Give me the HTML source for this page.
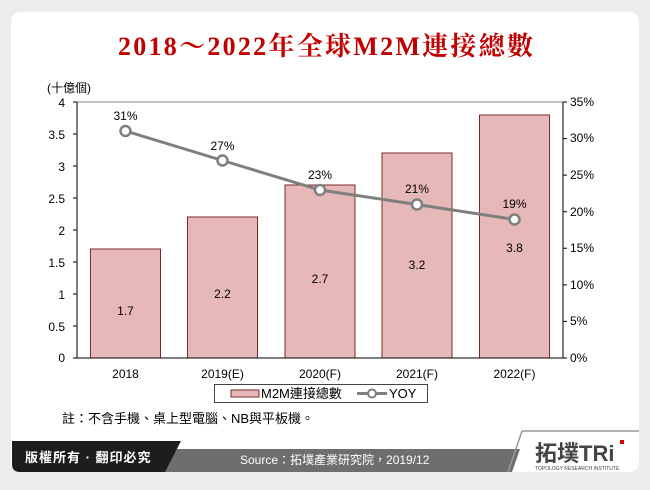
<!DOCTYPE html>
<html><head><meta charset="utf-8"><style>
body{margin:0;width:650px;height:485px;background:#ececec;overflow:hidden;font-family:"Liberation Sans","Noto Sans CJK TC",sans-serif}
</style></head><body>
<svg width="650" height="485" xmlns="http://www.w3.org/2000/svg" font-family="Liberation Sans, Noto Sans CJK TC, sans-serif">
<rect x="11" y="12" width="628" height="460" rx="9" fill="#fff"/>
<text x="118" y="55" textLength="415" lengthAdjust="spacing" font-family="Liberation Serif, Noto Serif CJK SC, serif" font-weight="bold" font-size="26" fill="#c00000">2018～2022年全球M2M連接總數</text>
<text x="47" y="92" font-size="12">(十億個)</text>
<g font-size="12" text-anchor="end">
<text x="65" y="107">4</text><text x="65" y="139">3.5</text><text x="65" y="171">3</text><text x="65" y="203">2.5</text><text x="65" y="235">2</text><text x="65" y="267">1.5</text><text x="65" y="299">1</text><text x="65" y="331">0.5</text><text x="65" y="362">0</text>
</g>
<g font-size="12">
<text x="570" y="106">35%</text><text x="570" y="142">30%</text><text x="570" y="179">25%</text><text x="570" y="216">20%</text><text x="570" y="252">15%</text><text x="570" y="289">10%</text><text x="570" y="325">5%</text><text x="570" y="362">0%</text>
</g>
<g fill="#e6b8b7" stroke="#7b2b2b" stroke-width="1">
<rect x="90.5" y="249" width="70" height="109"/>
<rect x="187.5" y="217" width="70" height="141"/>
<rect x="285" y="185" width="70" height="173"/>
<rect x="382" y="153" width="70" height="205"/>
<rect x="479.5" y="115" width="70" height="243"/>
</g>
<rect x="77" y="102" width="486" height="256" fill="none" stroke="#888" stroke-width="1"/>
<g stroke="#000" stroke-width="1">
<line x1="77" y1="102" x2="77" y2="358"/><line x1="563" y1="102" x2="563" y2="358"/><line x1="77" y1="358" x2="563" y2="358"/>
<path d="M73 102H77M73 134H77M73 166H77M73 198H77M73 230H77M73 262H77M73 294H77M73 326H77M73 358H77"/>
<path d="M563 102H567M563 138.6H567M563 175.1H567M563 211.7H567M563 248.3H567M563 284.9H567M563 321.4H567M563 358H567"/>
</g>
<g font-size="12" text-anchor="middle">
<text x="125.5" y="315">1.7</text><text x="222.5" y="298">2.2</text><text x="320" y="283">2.7</text><text x="417" y="269">3.2</text><text x="514.5" y="252">3.8</text>
<text x="125.5" y="120">31%</text><text x="222.5" y="150">27%</text><text x="320" y="179">23%</text><text x="417" y="193">21%</text><text x="514.5" y="208">19%</text>
<text x="125.5" y="378">2018</text><text x="222.5" y="378">2019(E)</text><text x="320" y="378">2020(F)</text><text x="417" y="378">2021(F)</text><text x="514.5" y="378">2022(F)</text>
</g>
<polyline points="125.5,131 222.5,160.5 320,190 417,204.5 514.5,219.5" fill="none" stroke="#7f7f7f" stroke-width="3"/>
<g fill="#fff" stroke="#7f7f7f" stroke-width="2.5">
<circle cx="125.5" cy="131" r="5"/><circle cx="222.5" cy="160.5" r="5"/><circle cx="320" cy="190" r="5"/><circle cx="417" cy="204.5" r="5"/><circle cx="514.5" cy="219.5" r="5"/>
</g>
<rect x="214.5" y="384.5" width="213" height="18" fill="#fff" stroke="#444"/>
<rect x="231" y="390" width="28" height="7" fill="#e6b8b7" stroke="#7b2b2b"/>
<text x="261" y="398" font-size="13">M2M連接總數</text>
<line x1="357" y1="393.5" x2="387" y2="393.5" stroke="#7f7f7f" stroke-width="3"/>
<circle cx="372" cy="393.5" r="4" fill="#fff" stroke="#7f7f7f" stroke-width="2"/>
<text x="389" y="398" font-size="13">YOY</text>
<text x="62" y="423" font-size="13">註：不含手機、桌上型電腦、NB與平板機。</text>
<path d="M150 449H520L512 472H150Z" fill="#6e6e6e"/>
<path d="M12 441H181L165 472H20Q12 472 12 464Z" fill="#1d1d1d"/>
<path d="M522 431H639" stroke="#999" stroke-width="1.5"/>
<path d="M522 431L508 472" stroke="#999" stroke-width="1.5"/>
<text x="25" y="462" font-size="13" font-weight="bold" fill="#fff" letter-spacing="1">版權所有 · 翻印必究</text>
<text x="240" y="464" font-size="12" fill="#fff">Source：拓墣產業研究院，2019/12</text>
<text x="535" y="461" font-size="22" font-weight="bold" fill="#444">拓墣TRi</text>
<rect x="620" y="440" width="4" height="4" fill="#d00"/>
<text x="535" y="470" font-size="5" fill="#444">TOPOLOGY RESEARCH INSTITUTE</text>
</svg>
</body></html>
